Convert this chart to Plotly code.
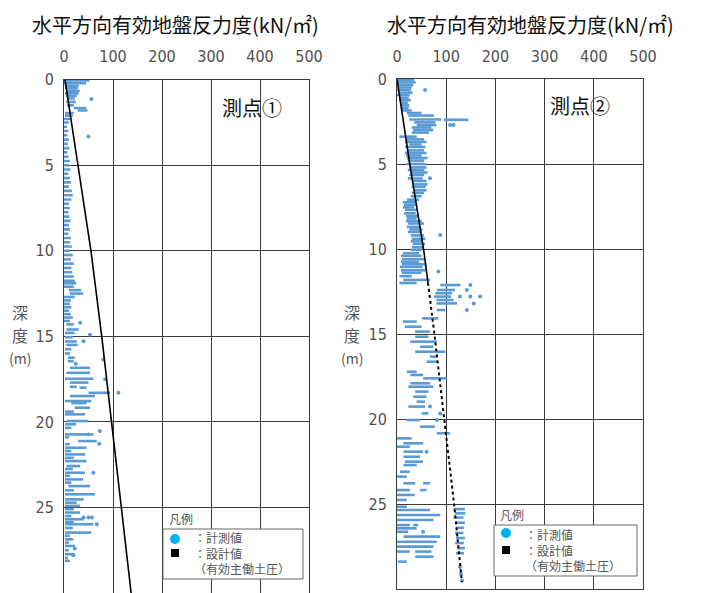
import plotly.graph_objects as go

OFF = 8  # browser default body margin
W, H = 702 - OFF, 593 - OFF
BLUE = "#5B9BD5"
GRID = "#3c3c3c"
TICKC = "#505050"
CJK = "Noto Sans CJK JP"
NUMF = "Liberation Sans Narrow, DejaVu Sans Condensed, Roboto"

x_ticks = [0, 100, 200, 300, 400, 500]
y_ticks = [0, 5, 10, 15, 20, 25, 30]

# ---------------- 測点① ----------------
left_streak_depth = [0.05, 0.2, 0.35, 0.5, 0.65, 0.8, 0.95, 1.1, 1.3, 1.5, 1.65, 1.8, 1.95, 2.1, 2.3, 2.5,
                     2.75, 3.0, 3.25, 3.5, 3.75, 4.0, 4.25, 4.5, 4.75, 5.0, 5.25, 5.5, 5.75, 6.0, 6.25, 6.5,
                     6.75, 7.0, 7.25, 7.5, 7.75, 8.0, 8.25, 8.5, 8.75, 9.0, 9.25, 9.5, 9.75, 10.0, 10.25, 10.5,
                     10.75, 11.0, 11.25, 11.5, 11.75,
                     11.9, 12.1, 12.3, 12.5, 12.7, 12.9, 13.1, 13.3, 13.5, 13.7, 13.9, 14.1, 14.3, 14.6, 14.8,
                     15.05, 15.3, 15.5, 15.75, 16.0, 16.25, 16.45, 16.84, 17.13, 17.48, 17.7, 17.95, 18.0,
                     18.3, 18.49, 18.78, 18.9, 19.17, 19.4, 19.56, 19.95, 20.14, 20.35, 20.73, 20.9, 21.12,
                     21.3, 21.51, 21.7, 21.9, 22.1, 22.29, 22.58, 22.75, 22.97, 23.15, 23.36, 23.55, 23.75,
                     24.0, 24.23, 24.53, 24.72, 24.91, 25.1, 25.3, 25.5, 25.69, 25.85, 25.98, 26.2, 26.47,
                     26.65, 26.86, 27.05, 27.25, 27.5, 27.73, 27.95, 28.12]
left_streak_min = [0, 0, 2, 2, 4, 2, 4, 6, 4, 6, 20, 28, 2, 2, 0, 0,
                   0, 0, 0, 0, 0, 0, 0, 0, 0, 0, 0, 0, 0, 0, 0, 0,
                   0, 0, 0, 0, 0, 0, 0, 0, 0, 0, 0, 0, 0, 0, 0, 0,
                   0, 0, 0, 0, 0,
                   0, 0, 10, 12, 0, 0, 0, 0, 0, 0, 0, 0, 5, 5, 2,
                   2, 2, 5, 2, 2, 8, 8, 12, 5, 2, 12, 12, 32,
                   50, 12, 2, 15, 22, 2, 2, 5, 2, 2, 2, 2, 29,
                   2, 2, 2, 2, 2, 2, 5, 2, 2, 2, 2, 2, 9,
                   2, 2, 2, 2, 2, 2, 2, 2, 2, 2, 2, 2, 2,
                   2, 2, 2, 2, 2, 2, 2, 2]
left_streak_max = [52, 45, 30, 28, 32, 30, 26, 22, 24, 20, 46, 48, 20, 18, 14, 10,
                   6, 9, 7, 10, 8, 11, 7, 9, 12, 10, 13, 9, 12, 14, 10, 16,
                   18, 15, 10, 12, 9, 11, 13, 10, 12, 9, 14, 12, 16, 12, 18, 14,
                   20, 15, 17, 20, 22,
                   25, 20, 35, 39, 22, 14, 12, 15, 10, 14, 18, 12, 20, 30, 22,
                   18, 26, 28, 15, 12, 22, 20, 53, 53, 60, 50, 26, 46,
                   94, 63, 56, 46, 53, 20, 43, 50, 25, 15, 60, 10, 67,
                   12, 46, 15, 43, 20, 46, 33, 18, 43, 12, 39, 15, 53,
                   20, 63, 40, 26, 33, 20, 33, 15, 40, 20, 60, 18, 56,
                   12, 19, 10, 22, 10, 22, 8, 12]
left_dot_depth = [1.13, 3.32, 14.2, 14.9, 15.28, 16.36, 16.6, 17.5, 18.3, 20.53, 20.73, 21.28, 22.97,
                  25.59, 25.59, 25.59, 25.98, 27.4, 27.8]
left_dot_value = [56, 50, 33, 53, 40, 80, 24, 84, 111, 73, 50, 72, 60,
                  40, 50, 57, 67, 22, 19]
left_design_depth = [0, 5, 10, 15, 20, 25, 30]
left_design_value = [2, 29, 55, 77, 97, 116, 137]

# ---------------- 測点② ----------------
right_streak_depth = [0.05, 0.2, 0.35, 0.5, 0.65, 0.8, 0.95, 1.1, 1.25, 1.4, 1.55, 1.7, 1.85, 2.0, 2.15, 2.38,
                      2.4, 2.55, 2.71, 2.85, 3.0, 3.15, 3.39, 3.55, 3.7, 3.85, 4.0, 4.2, 4.35, 4.5, 4.65,
                      4.8, 5.0, 5.2, 5.35, 5.5, 5.65, 5.85, 6.0, 6.2, 6.35, 6.55, 6.7, 6.9, 7.1, 7.25, 7.4,
                      7.55, 7.7, 7.9, 8.05, 8.2, 8.35, 8.5, 8.7, 8.85, 9.0, 9.2, 9.4, 9.55, 9.7, 9.9, 10.05,
                      10.25, 10.4, 10.6, 10.75, 10.9, 11.05, 11.25, 11.4, 11.6, 11.82, 12.0, 12.12, 12.41,
                      12.6, 12.8, 13.0, 13.2, 13.59, 14.08, 14.27, 14.57, 14.86, 15.16, 15.45, 15.75, 16.04,
                      16.33, 16.63, 17.22, 17.41, 17.61, 17.9, 18.1, 18.39, 18.69, 18.98, 19.27, 19.67, 20.06,
                      20.45, 20.84, 21.14, 21.43, 21.63, 21.92, 22.22, 22.51, 22.71, 23.1, 23.39, 23.78,
                      23.78, 24.18, 24.18, 24.47, 24.76, 25.16, 25.35, 25.65, 25.94, 26.24, 26.24, 26.43,
                      26.63, 26.92, 27.22, 27.51, 27.8, 27.8, 28.1, 28.39,
                      25.3, 25.55, 25.8, 26.1, 26.4, 26.7, 27.0, 27.3, 27.6, 27.9]
right_streak_min = [0, 0, 2, 2, 0, 3, 0, 4, 5, 6, 8, 8, 10, 20, 23, 25,
                    95, 35, 40, 30, 33, 30, 5, 20, 16, 25, 16, 20, 16, 18, 20,
                    22, 20, 25, 22, 28, 25, 22, 30, 32, 30, 35, 30, 28, 20, 12, 14,
                    12, 16, 14, 18, 20, 18, 22, 20, 25, 22, 28, 30, 28, 32, 30, 28,
                    12, 8, 10, 8, 10, 6, 8, 10, 5, 13, 5, 88, 81,
                    78, 75, 80, 80, 81, 51, 12, 16, 37, 37, 27, 47, 37,
                    67, 60, 20, 27, 53, 27, 23, 37, 33, 40, 23, 50, 20,
                    47, 81, 0, 13, 0, 13, 13, 16, 13, 6, 0, 13,
                    53, 0, 47, 0, 0, 0, 0, 0, 0, 0, 33, 0,
                    0, 13, 0, 0, 0, 37, 37, 2,
                    115, 118, 115, 118, 120, 118, 120, 118, 122, 120]
right_streak_max = [35, 38, 33, 30, 28, 32, 26, 24, 28, 22, 25, 24, 30, 50, 75, 90,
                    145, 78, 80, 70, 74, 65, 40, 55, 60, 50, 58, 55, 60, 50, 62,
                    55, 58, 60, 56, 62, 55, 52, 60, 62, 58, 60, 55, 50, 45, 38, 40,
                    35, 42, 38, 45, 40, 50, 55, 48, 52, 50, 55, 58, 52, 57, 55, 50,
                    45, 50, 55, 45, 60, 52, 58, 50, 30, 67, 40, 129, 118,
                    112, 110, 115, 122, 98, 84, 40, 50, 67, 64, 81, 74, 98,
                    81, 81, 40, 53, 101, 67, 74, 64, 60, 57, 57, 64, 47,
                    77, 108, 30, 53, 26, 53, 47, 53, 40, 26, 20, 37,
                    67, 26, 60, 36, 20, 20, 67, 88, 74, 26, 43, 40,
                    23, 88, 81, 74, 26, 70, 74, 20,
                    138, 139, 135, 138, 136, 135, 138, 136, 138, 136]
right_dot_depth = [0.65, 2.71, 2.71, 5.84, 9.18, 11.33, 12.12, 12.41, 12.8, 12.8, 12.8, 13.2, 13.59,
                   19.27, 19.67, 20.06, 21.92, 26.63, 28.7, 29.1, 29.5]
right_dot_value = [57, 108, 115, 67, 88, 84, 149, 142, 128, 149, 169, 156, 142,
                   67, 88, 81, 60, 53, 128, 130, 132]
right_design_solid_depth = [0, 5, 10, 12]
right_design_solid_value = [0, 26, 54, 63]
right_design_dot_depth = [12, 15, 20, 25, 29.6]
right_design_dot_value = [63, 76, 96, 116, 132]

panel_titles = ["水平方向有効地盤反力度(kN/㎡)", "水平方向有効地盤反力度(kN/㎡)"]
point_labels = ["測点①", "測点②"]
legend_items = ["：計測値", "：設計値", "（有効主働土圧）"]


def seg(depths, mins, maxs):
    xs, ys = [], []
    for d, a, b in zip(depths, mins, maxs):
        xs += [a, b, None]
        ys += [d, d, None]
    return xs, ys


fig = go.Figure()

lx, ly = seg(left_streak_depth, left_streak_min, left_streak_max)
fig.add_trace(go.Scatter(x=lx, y=ly, mode="lines", line=dict(color=BLUE, width=2.6),
                         xaxis="x", yaxis="y", showlegend=False))
fig.add_trace(go.Scatter(x=left_dot_value, y=left_dot_depth, mode="markers",
                         marker=dict(color=BLUE, size=4), xaxis="x", yaxis="y", showlegend=False))
fig.add_trace(go.Scatter(x=left_design_value, y=left_design_depth, mode="lines",
                         line=dict(color="black", width=1.6), xaxis="x", yaxis="y", showlegend=False))

rx, ry = seg(right_streak_depth, right_streak_min, right_streak_max)
fig.add_trace(go.Scatter(x=rx, y=ry, mode="lines", line=dict(color=BLUE, width=2.6),
                         xaxis="x2", yaxis="y2", showlegend=False))
fig.add_trace(go.Scatter(x=right_dot_value, y=right_dot_depth, mode="markers",
                         marker=dict(color=BLUE, size=4), xaxis="x2", yaxis="y2", showlegend=False))
fig.add_trace(go.Scatter(x=right_design_solid_value, y=right_design_solid_depth, mode="lines",
                         line=dict(color="black", width=1.6), xaxis="x2", yaxis="y2", showlegend=False))
fig.add_trace(go.Scatter(x=right_design_dot_value, y=right_design_dot_depth, mode="lines",
                         line=dict(color="black", width=2, dash="dot"), xaxis="x2", yaxis="y2",
                         showlegend=False))


def X(p):
    return min(1.0, max(0.0, (p - OFF) / W))


def Y(p):
    return min(1.0, max(0.0, 1 - (p - OFF) / H))


xax = dict(range=[0, 500], tickvals=x_ticks, side="top", showgrid=True, gridcolor=GRID, gridwidth=1,
           showline=True, linecolor=GRID, linewidth=1, mirror=True, zeroline=False, automargin=False,
           ticks="", ticklabelstandoff=10,
           tickfont=dict(family=NUMF, size=16, color=TICKC))
yax = dict(range=[30, 0], tickvals=y_ticks, showgrid=True, gridcolor=GRID, gridwidth=1,
           showline=True, linecolor=GRID, linewidth=1, mirror=True, zeroline=False, automargin=False,
           ticks="", ticklabelstandoff=6,
           tickfont=dict(family=NUMF, size=16, color=TICKC))

fig.update_layout(
    width=W, height=H, margin=dict(l=0, r=0, t=0, b=0, autoexpand=False),
    paper_bgcolor="white", plot_bgcolor="white",
    xaxis=dict(xax, domain=[X(64), X(309)], anchor="y"),
    yaxis=dict(yax, domain=[0, Y(79.7)], anchor="x"),
    xaxis2=dict(xax, domain=[X(397), X(643)], anchor="y2"),
    yaxis2=dict(yax, domain=[Y(589), Y(79)], anchor="x2"),
)

ann = []
shapes = []
for cx, title in zip([175, 530], panel_titles):
    ann.append(dict(x=X(cx), y=Y(24), xref="paper", yref="paper", text=title, showarrow=False,
                    font=dict(family=CJK, size=20, color="#111111"), xanchor="center", yanchor="middle"))
for (cx, cy), lab in zip([(252, 107), (580, 106)], point_labels):
    ann.append(dict(x=X(cx), y=Y(cy), xref="paper", yref="paper", text=lab, showarrow=False,
                    font=dict(family=CJK, size=20, color="#111111"), xanchor="center", yanchor="middle"))
for cx in [20, 352]:
    for cy, t, s in [(312, "深", 16), (335, "度", 16), (358, "(m)", 14)]:
        ann.append(dict(x=X(cx), y=Y(cy), xref="paper", yref="paper", text=t, showarrow=False,
                        font=dict(family=CJK, size=s, color="#555555"), xanchor="center", yanchor="middle"))

legends = [
    dict(box=(163, 529, 303, 579), title=(167, 518), mark_x=175, rows=(539, 553, 569), tx=192),
    dict(box=(494, 525, 637, 576), title=(498, 514), mark_x=506, rows=(533, 550, 565), tx=523),
]
for lg in legends:
    x0, y0, x1, y1 = lg["box"]
    shapes.append(dict(type="rect", xref="paper", yref="paper", x0=X(x0), x1=X(x1), y0=Y(y1), y1=Y(y0),
                       line=dict(color="#666666", width=1), fillcolor="white", layer="above"))
    mx = lg["mark_x"]
    r1, r2, r3 = lg["rows"]
    shapes.append(dict(type="circle", xref="paper", yref="paper", x0=X(mx - 5), x1=X(mx + 5),
                       y0=Y(r1 + 5), y1=Y(r1 - 5), line=dict(width=0), fillcolor="#00B0F0", layer="above"))
    shapes.append(dict(type="rect", xref="paper", yref="paper", x0=X(mx - 4), x1=X(mx + 4),
                       y0=Y(r2 + 4), y1=Y(r2 - 4), line=dict(width=0), fillcolor="black", layer="above"))
    ann.append(dict(x=X(lg["title"][0]), y=Y(lg["title"][1]), xref="paper", yref="paper", text="凡例",
                    showarrow=False, font=dict(family=CJK, size=12, color="#555555"),
                    xanchor="left", yanchor="middle"))
    ann.append(dict(x=X(lg["tx"]), y=Y(r2), xref="paper", yref="paper", text="<br>".join(legend_items),
                    showarrow=False, align="left", font=dict(family=CJK, size=12, color="#555555"),
                    xanchor="left", yanchor="middle"))

fig.update_layout(annotations=ann, shapes=shapes)
fig.write_html("out.html")
